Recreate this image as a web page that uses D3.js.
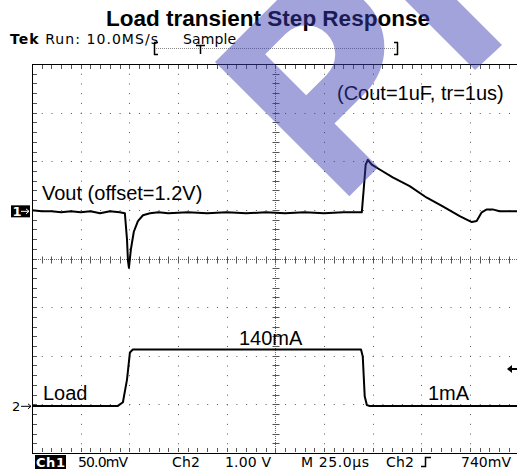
<!DOCTYPE html>
<html>
<head>
<meta charset="utf-8">
<script src="https://cdn.jsdelivr.net/npm/d3@7"></script>
<style>
body { margin: 0; background: #fff; }
svg { display: block; }
.label { font-family: "Liberation Sans", Arial, sans-serif; fill: #000; }
.scope { font-family: "DejaVu Sans", sans-serif; fill: #000; }
</style>
</head>
<body>
<svg></svg>
<script>

// Vout (ch1), time in us from left edge of screen, mV around the 1.2V offset
var voutTime = [0, 5, 10, 15, 20, 25, 30, 35, 40, 45, 47.7, 48.8, 49.3, 49.8, 50.8, 52.3, 54.4, 57, 60.6,
                65, 70, 80, 90, 100, 110, 120, 130, 140, 150, 160, 165, 169.4, 170.4, 171.4, 172.5,
                174.5, 178.6, 185.3, 194, 202.8, 211, 219.7, 225.9, 228.4, 231, 233.6, 236.6, 240.2, 245, 250];
var voutMv   = [1, 0, 0, -1, 0, -1, 0, -2, 0, -1, -2, -29, -51, -58, -39, -21, -10, -4, -2,
                -1, -2, -1, -2, -1, -2, -1, -2, -1, -2, -1, -1, -1, 23, 48, 53,
                48, 43, 35, 26, 14, 5, -5, -11, -10, -1, 2, 2, 0, 0, 0];

// Load current (ch2), mA
var loadTime = [0, 20, 40, 44.1, 46.7, 48.8, 50.3, 51.8, 60, 100, 140, 169.0, 169.9, 170.9, 172.0, 173.5, 200, 250];
var loadMa   = [1, 1, 1, 1, 10, 66, 133, 140, 140, 140, 140, 140, 123, 25, 3, 1, 1, 1];

var chartTitle = "Load transient Step Response";
var statusTop = ["Tek Run: 10.0MS/s", "Sample"];
var statusBottom = ["50.0mV", "Ch2", "1.00 V", "M 25.0\u00b5s", "Ch2", "740mV"];

var ch1Pos = 0.97;     // divisions above centre
var ch2Pos = -3.04;
var ch1PerDiv = 50;    // mV/div
var ch2PerDiv = 120;   // mA/div

var width = 517, height = 470;
var svg = d3.select("svg").attr("width", width).attr("height", height);

var x = d3.scaleLinear().domain([0, 250]).range([32, 518.7]);
var yDiv = d3.scaleLinear().domain([-4, 4]).range([453, 64]);
var crisp = function (v) { return Math.round(v) + 0.5; };

var grid = svg.append("g").attr("class", "grid");
var minorX = (x(25) - x(0)) / 5;
var minorY = (yDiv(-4) - yDiv(-3)) / 5;

// dotted major lines
d3.range(1, 10).filter(function (i) { return i !== 5; }).forEach(function (i) {
  grid.append("line")
    .attr("x1", crisp(x(i * 25))).attr("x2", crisp(x(i * 25)))
    .attr("y1", 64).attr("y2", 453)
    .attr("stroke", "#555").attr("stroke-dasharray", "1," + (minorY - 1));
});
d3.range(-3, 4).filter(function (j) { return j !== 0; }).forEach(function (j) {
  grid.append("line")
    .attr("y1", crisp(yDiv(j))).attr("y2", crisp(yDiv(j)))
    .attr("x1", 32).attr("x2", width)
    .attr("stroke", "#555").attr("stroke-dasharray", "1," + (minorX - 1));
});

// centre crosshair
var cx = crisp(x(125)), cy = crisp(yDiv(0));
grid.append("line").attr("x1", cx).attr("x2", cx).attr("y1", 64).attr("y2", 453)
  .attr("stroke", "#666").attr("stroke-dasharray", "1,1");
grid.append("line").attr("y1", cy).attr("y2", cy).attr("x1", 32).attr("x2", width)
  .attr("stroke", "#666").attr("stroke-dasharray", "1,1");
d3.range(-20, 21).forEach(function (k) {
  var yy = crisp(yDiv(k / 5));
  grid.append("line").attr("x1", cx - 3).attr("x2", cx + 4).attr("y1", yy).attr("y2", yy).attr("stroke", "#555");
});
d3.range(0, 51).forEach(function (k) {
  var xx = crisp(x(k * 5));
  grid.append("line").attr("x1", xx).attr("x2", xx).attr("y1", cy - 3).attr("y2", cy + 4).attr("stroke", "#555");
  // border ticks top / bottom
  grid.append("line").attr("x1", xx).attr("x2", xx).attr("y1", 65).attr("y2", 69).attr("stroke", "#555");
  grid.append("line").attr("x1", xx).attr("x2", xx).attr("y1", 448).attr("y2", 452).attr("stroke", "#555");
});
d3.range(0, 41).forEach(function (k) {
  var yy = crisp(yDiv(-4 + k / 5));
  grid.append("line").attr("x1", 33).attr("x2", 37).attr("y1", yy).attr("y2", yy).attr("stroke", "#555");
});

// frame
grid.append("line").attr("x1", 32.5).attr("x2", 32.5).attr("y1", 64).attr("y2", 454).attr("stroke", "#000");
grid.append("line").attr("x1", 32).attr("x2", width).attr("y1", 64.5).attr("y2", 64.5).attr("stroke", "#000");
grid.append("line").attr("x1", 32).attr("x2", width).attr("y1", 453.5).attr("y2", 453.5).attr("stroke", "#000");

// traces
var vout = voutTime.map(function (t, i) { return { t: t, v: voutMv[i] }; });
var load = loadTime.map(function (t, i) { return { t: t, v: loadMa[i] }; });

var line1 = d3.line().x(function (d) { return x(d.t); })
  .y(function (d) { return yDiv(ch1Pos + d.v / ch1PerDiv); });
var line2 = d3.line().x(function (d) { return x(d.t); })
  .y(function (d) { return yDiv(ch2Pos + d.v / ch2PerDiv); });

svg.append("path").datum(vout).attr("d", line1)
  .attr("fill", "none").attr("stroke", "#000").attr("stroke-width", 2).attr("stroke-linejoin", "round");
svg.append("path").datum(load).attr("d", line2)
  .attr("fill", "none").attr("stroke", "#000").attr("stroke-width", 2).attr("stroke-linejoin", "round");

// channel markers
var m1 = yDiv(ch1Pos), m2 = yDiv(ch2Pos);
svg.append("rect").attr("x", 11).attr("y", m1 - 6).attr("width", 19).attr("height", 12).attr("fill", "#000");
svg.append("text").attr("class", "scope").attr("x", 12.5).attr("y", m1 + 5)
  .attr("font-size", 13).attr("font-weight", "bold").style("fill", "#fff").text("1");
svg.append("path").attr("d", "M21," + m1 + "H29M26," + (m1 - 2.5) + "L29," + m1 + "L26," + (m1 + 2.5))
  .attr("stroke", "#fff").attr("fill", "none");
svg.append("text").attr("class", "scope").attr("x", 12).attr("y", m2 + 5)
  .attr("font-size", 13).text("2");
svg.append("path").attr("d", "M21," + m2 + "H31M28," + (m2 - 2.5) + "L31," + m2 + "L28," + (m2 + 2.5))
  .attr("stroke", "#000").attr("fill", "none");

// trigger level arrow on right
var ty = 369;
svg.append("path").attr("d", "M507," + ty + "L512," + (ty - 4) + "L512," + (ty + 4) + "Z").attr("fill", "#000");
svg.append("line").attr("x1", 511).attr("x2", 517).attr("y1", ty).attr("y2", ty).attr("stroke", "#000").attr("stroke-width", 2);

// labels
svg.append("text").attr("class", "label").attr("x", 268).attr("y", 26)
  .attr("text-anchor", "middle").attr("font-size", 22.5).attr("font-weight", "bold").text(chartTitle);
svg.append("text").attr("class", "label").attr("x", 42).attr("y", 200).attr("font-size", 20).text("Vout (offset=1.2V)");
svg.append("text").attr("class", "label").attr("x", 337).attr("y", 100).attr("font-size", 20).text("(Cout=1uF, tr=1us)");
svg.append("text").attr("class", "label").attr("x", 239).attr("y", 345).attr("font-size", 20).text("140mA");
svg.append("text").attr("class", "label").attr("x", 43).attr("y", 400).attr("font-size", 20).text("Load");
svg.append("text").attr("class", "label").attr("x", 428).attr("y", 400).attr("font-size", 20).text("1mA");

// top status line
var topLine = svg.append("text").attr("class", "scope").attr("x", 10).attr("y", 44).attr("font-size", 14)
  .attr("textLength", 148).attr("lengthAdjust", "spacing");
topLine.append("tspan").attr("font-weight", "bold").text("Tek");
topLine.append("tspan").text(statusTop[0].slice(3));
svg.append("text").attr("class", "scope").attr("x", 183).attr("y", 44).attr("font-size", 14)
  .attr("textLength", 53).attr("lengthAdjust", "spacing").text(statusTop[1]);
svg.append("line").attr("x1", 156).attr("x2", 396).attr("y1", 48.5).attr("y2", 48.5)
  .attr("stroke", "#888").attr("stroke-dasharray", "1,1");
svg.append("path").attr("d", "M154.5,42V55M154,42.5H158M154,54.5H158").attr("stroke", "#000").attr("stroke-width", 1.5).attr("fill", "none");
svg.append("path").attr("d", "M397.5,42V55M398,42.5H394M398,54.5H394").attr("stroke", "#000").attr("stroke-width", 1.5).attr("fill", "none");
svg.append("path").attr("d", "M196,45.5H205M200.5,45V54").attr("stroke", "#000").attr("stroke-width", 1.5).attr("fill", "none");

// bottom status line
svg.append("rect").attr("x", 35).attr("y", 455).attr("width", 31).attr("height", 14).attr("fill", "#000");
svg.append("text").attr("class", "scope").attr("x", 36).attr("y", 467).attr("font-size", 13)
  .attr("font-weight", "bold").attr("textLength", 29).attr("lengthAdjust", "spacing").style("fill", "#fff").text("Ch1");
var bx = [78, 172, 225, 301, 386, 461];
var bw = [50, 28, 46, 68, 28, 50];
statusBottom.forEach(function (s, i) {
  svg.append("text").attr("class", "scope").attr("x", bx[i]).attr("y", 467).attr("font-size", 14)
    .attr("textLength", bw[i]).attr("lengthAdjust", "spacing").text(s);
});
// trigger slope symbol
svg.append("path").attr("d", "M421,466.5H425.5V457.5H431").attr("stroke", "#000").attr("stroke-width", 1.5).attr("fill", "none");

// watermark
var wm = svg.append("g").attr("fill", "rgb(60,60,181)").attr("fill-opacity", 0.47);
wm.append("path")
  .attr("transform", "translate(215,62) rotate(-45)")
  .attr("fill-rule", "evenodd")
  .attr("d", "M0,0 L85,0 A64,64 0 0 1 85,128 L41,128 L41,190 L0,190 Z " +
             "M41,30 L70,30 A29,29 0 0 1 70,88 L41,88 Z");
wm.append("path").attr("d", "M405,0 L457,0 L502,45 L475,70 Z");

</script>
</body>
</html>
